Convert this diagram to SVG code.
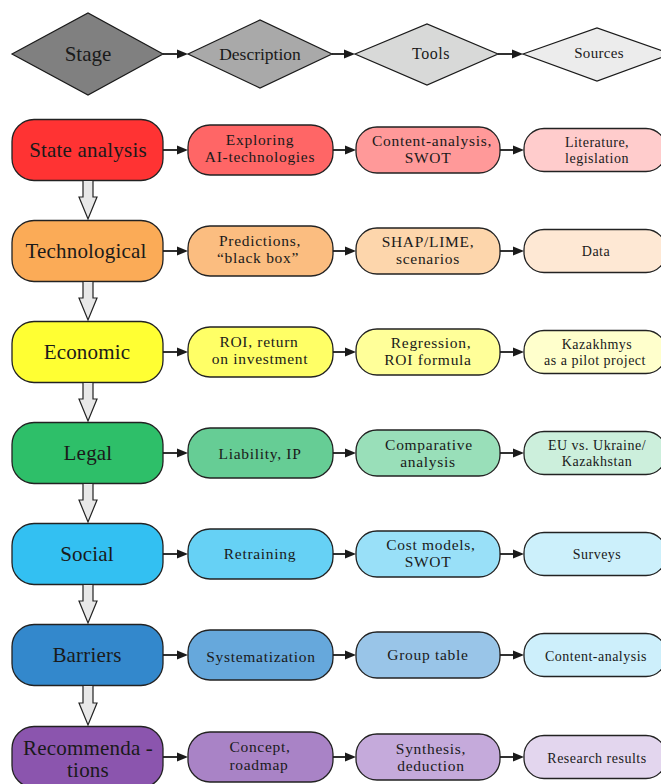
<svg xmlns="http://www.w3.org/2000/svg" width="661" height="784" viewBox="0 0 661 784">
  <style>
    text { fill: #1a1a1a; text-anchor: middle; }
    .hd { stroke: #1a1a1a; stroke-width: 1.2; }
    .box { stroke: #222; stroke-width: 1.3; }
    .st { font-size: 21px; letter-spacing: 0.2px; }
    .ds { font-size: 15.5px; letter-spacing: 0.7px; }
    .tl { font-size: 15.5px; letter-spacing: 0.7px; }
    .sr { font-size: 14px; letter-spacing: 0.5px; }
    .edge { stroke: #1a1a1a; stroke-width: 1.8; fill: none; }
    .head { fill: #1a1a1a; }
    .down { fill: #e8e8e8; stroke: #222; stroke-width: 1.2; }
  </style>

  <g font-family="Liberation Serif, DejaVu Serif, serif">
  <!-- header row -->
  <g id="hdr-stage"><polygon class="hd" points="12,54 88,13 163,54 88,95" fill="#808080"/><text x="88" y="61" style="font-size:21px">Stage</text></g>
  <g id="hdr-description"><polygon class="hd" points="188,54 260,20 332,54 260,88" fill="#a9a9a9"/><text x="260" y="60" style="font-size:17.5px">Description</text></g>
  <g id="hdr-tools"><polygon class="hd" points="355,54 427,24 498,54 427,85" fill="#d8d9d8"/><text x="431" y="59" style="font-size:16px;letter-spacing:0.5px">Tools</text></g>
  <g id="hdr-sources"><polygon class="hd" points="523,54 597,28 671,54 597,81" fill="#ececec"/><text x="599" y="58" style="font-size:15px;letter-spacing:0.3px">Sources</text></g>

  <!-- rows: stage / description / tools / sources -->
  <g id="row1-stage"><rect class="box" x="12" y="119.5" width="151" height="61" rx="22" fill="#ff3333"/><text class="st" x="88" y="157">State analysis</text></g>
  <g id="row1-desc"><rect class="box" x="188" y="125" width="145" height="50" rx="22" fill="#ff6666"/><text class="ds" x="260" y="145">Exploring</text><text class="ds" x="260" y="162">AI-technologies</text></g>
  <g id="row1-tools"><rect class="box" x="356" y="127" width="144" height="46" rx="21" fill="#ff9999"/><text class="tl" x="432" y="146">Content-analysis,</text><text class="tl" x="428" y="163">SWOT</text></g>
  <g id="row1-src"><rect class="box" x="524" y="128.5" width="142" height="43" rx="20" fill="#ffcccc"/><text class="sr" x="597" y="147">Literature,</text><text class="sr" x="597" y="163">legislation</text></g>

  <g id="row2-stage"><rect class="box" x="12" y="220.5" width="151" height="61" rx="22" fill="#fbab57"/><text class="st" x="86" y="258">Technological</text></g>
  <g id="row2-desc"><rect class="box" x="188" y="226" width="145" height="50" rx="22" fill="#fbbd80"/><text class="ds" x="260" y="246">Predictions,</text><text class="ds" x="258" y="263">“black box”</text></g>
  <g id="row2-tools"><rect class="box" x="356" y="228" width="144" height="46" rx="21" fill="#fdd6ac"/><text class="tl" x="428" y="247">SHAP/LIME,</text><text class="tl" x="428" y="264">scenarios</text></g>
  <g id="row2-src"><rect class="box" x="524" y="229.5" width="142" height="43" rx="20" fill="#fee8d4"/><text class="sr" x="596" y="256">Data</text></g>

  <g id="row3-stage"><rect class="box" x="12" y="321.5" width="151" height="61" rx="22" fill="#ffff33"/><text class="st" x="87" y="359">Economic</text></g>
  <g id="row3-desc"><rect class="box" x="188" y="327" width="145" height="50" rx="22" fill="#ffff66"/><text class="ds" x="259" y="347">ROI, return</text><text class="ds" x="260" y="364">on investment</text></g>
  <g id="row3-tools"><rect class="box" x="356" y="329" width="144" height="46" rx="21" fill="#ffff99"/><text class="tl" x="431" y="348">Regression,</text><text class="tl" x="428" y="365">ROI formula</text></g>
  <g id="row3-src"><rect class="box" x="524" y="330.5" width="142" height="43" rx="20" fill="#ffffcc"/><text class="sr" x="597" y="349">Kazakhmys</text><text class="sr" x="595" y="365">as a pilot project</text></g>

  <g id="row4-stage"><rect class="box" x="12" y="422.5" width="151" height="61" rx="22" fill="#2ebf69"/><text class="st" x="88" y="460">Legal</text></g>
  <g id="row4-desc"><rect class="box" x="188" y="428" width="145" height="50" rx="22" fill="#66cd95"/><text class="ds" x="260" y="459">Liability, IP</text></g>
  <g id="row4-tools"><rect class="box" x="356" y="430" width="144" height="46" rx="21" fill="#99dfb9"/><text class="tl" x="429" y="450">Comparative</text><text class="tl" x="428" y="467">analysis</text></g>
  <g id="row4-src"><rect class="box" x="524" y="431.5" width="142" height="43" rx="20" fill="#ccefdc"/><text class="sr" x="597" y="450">EU vs. Ukraine/</text><text class="sr" x="597" y="466">Kazakhstan</text></g>

  <g id="row5-stage"><rect class="box" x="12" y="523.5" width="151" height="61" rx="22" fill="#33c0f2"/><text class="st" x="87" y="561">Social</text></g>
  <g id="row5-desc"><rect class="box" x="188" y="529" width="145" height="50" rx="22" fill="#66d1f5"/><text class="ds" x="260" y="559">Retraining</text></g>
  <g id="row5-tools"><rect class="box" x="356" y="531" width="144" height="46" rx="21" fill="#99e0f8"/><text class="tl" x="431" y="550">Cost models,</text><text class="tl" x="428" y="567">SWOT</text></g>
  <g id="row5-src"><rect class="box" x="524" y="532.5" width="142" height="43" rx="20" fill="#ccf0fb"/><text class="sr" x="597" y="559">Surveys</text></g>

  <g id="row6-stage"><rect class="box" x="12" y="624.5" width="151" height="61" rx="22" fill="#3388cc"/><text class="st" x="87" y="662">Barriers</text></g>
  <g id="row6-desc"><rect class="box" x="188" y="630" width="145" height="50" rx="22" fill="#66a8dc"/><text class="ds" x="261" y="662">Systematization</text></g>
  <g id="row6-tools"><rect class="box" x="356" y="632" width="144" height="46" rx="21" fill="#99c5e8"/><text class="tl" x="428" y="660">Group table</text></g>
  <g id="row6-src"><rect class="box" x="524" y="633.5" width="142" height="43" rx="20" fill="#cdeffb"/><text class="sr" x="596" y="661">Content-analysis</text></g>

  <g id="row7-stage"><rect class="box" x="12" y="726.5" width="151" height="61" rx="22" fill="#8b55ae"/><text class="st" x="88" y="755">Recommenda -</text><text class="st" x="88" y="777">tions</text></g>
  <g id="row7-desc"><rect class="box" x="188" y="732" width="145" height="50" rx="22" fill="#a983c6"/><text class="ds" x="260" y="752">Concept,</text><text class="ds" x="259" y="770">roadmap</text></g>
  <g id="row7-tools"><rect class="box" x="356" y="734" width="144" height="46" rx="21" fill="#c5aadb"/><text class="tl" x="431" y="754">Synthesis,</text><text class="tl" x="431" y="771">deduction</text></g>
  <g id="row7-src"><rect class="box" x="524" y="735.5" width="142" height="43" rx="20" fill="#e3d6ee"/><text class="sr" x="597" y="763">Research results</text></g>
  </g>

  <!-- connectors -->
  <g id="connectors">
    <!-- header links -->
    <line class="edge" x1="163" y1="54" x2="178" y2="54"/><polygon class="head" points="188,54 177,49.5 177,58.5"/>
    <line class="edge" x1="332" y1="54" x2="345" y2="54"/><polygon class="head" points="355,54 344,49.5 344,58.5"/>
    <line class="edge" x1="498" y1="54" x2="513" y2="54"/><polygon class="head" points="523,54 512,49.5 512,58.5"/>

    <!-- row links -->
    <line class="edge" x1="163" y1="150" x2="178" y2="150"/><polygon class="head" points="188,150 177,145.5 177,154.5"/>
    <line class="edge" x1="333" y1="150" x2="346" y2="150"/><polygon class="head" points="356,150 345,145.5 345,154.5"/>
    <line class="edge" x1="500" y1="150" x2="514" y2="150"/><polygon class="head" points="524,150 513,145.5 513,154.5"/>

    <line class="edge" x1="163" y1="251" x2="178" y2="251"/><polygon class="head" points="188,251 177,246.5 177,255.5"/>
    <line class="edge" x1="333" y1="251" x2="346" y2="251"/><polygon class="head" points="356,251 345,246.5 345,255.5"/>
    <line class="edge" x1="500" y1="251" x2="514" y2="251"/><polygon class="head" points="524,251 513,246.5 513,255.5"/>

    <line class="edge" x1="163" y1="352" x2="178" y2="352"/><polygon class="head" points="188,352 177,347.5 177,356.5"/>
    <line class="edge" x1="333" y1="352" x2="346" y2="352"/><polygon class="head" points="356,352 345,347.5 345,356.5"/>
    <line class="edge" x1="500" y1="352" x2="514" y2="352"/><polygon class="head" points="524,352 513,347.5 513,356.5"/>

    <line class="edge" x1="163" y1="453" x2="178" y2="453"/><polygon class="head" points="188,453 177,448.5 177,457.5"/>
    <line class="edge" x1="333" y1="453" x2="346" y2="453"/><polygon class="head" points="356,453 345,448.5 345,457.5"/>
    <line class="edge" x1="500" y1="453" x2="514" y2="453"/><polygon class="head" points="524,453 513,448.5 513,457.5"/>

    <line class="edge" x1="163" y1="554" x2="178" y2="554"/><polygon class="head" points="188,554 177,549.5 177,558.5"/>
    <line class="edge" x1="333" y1="554" x2="346" y2="554"/><polygon class="head" points="356,554 345,549.5 345,558.5"/>
    <line class="edge" x1="500" y1="554" x2="514" y2="554"/><polygon class="head" points="524,554 513,549.5 513,558.5"/>

    <line class="edge" x1="163" y1="655" x2="178" y2="655"/><polygon class="head" points="188,655 177,650.5 177,659.5"/>
    <line class="edge" x1="333" y1="655" x2="346" y2="655"/><polygon class="head" points="356,655 345,650.5 345,659.5"/>
    <line class="edge" x1="500" y1="655" x2="514" y2="655"/><polygon class="head" points="524,655 513,650.5 513,659.5"/>

    <line class="edge" x1="163" y1="757" x2="178" y2="757"/><polygon class="head" points="188,757 177,752.5 177,761.5"/>
    <line class="edge" x1="333" y1="757" x2="346" y2="757"/><polygon class="head" points="356,757 345,752.5 345,761.5"/>
    <line class="edge" x1="500" y1="757" x2="514" y2="757"/><polygon class="head" points="524,757 513,752.5 513,761.5"/>

    <!-- stage-to-stage hollow block arrows -->
    <polygon class="down" points="83,180.5 93,180.5 93,197 97,197 88,219 79,197 83,197"/>
    <polygon class="down" points="83,281.5 93,281.5 93,298 97,298 88,320 79,298 83,298"/>
    <polygon class="down" points="83,382.5 93,382.5 93,399 97,399 88,421 79,399 83,399"/>
    <polygon class="down" points="83,483.5 93,483.5 93,500 97,500 88,522 79,500 83,500"/>
    <polygon class="down" points="83,584.5 93,584.5 93,601 97,601 88,623 79,601 83,601"/>
    <polygon class="down" points="83,685.5 93,685.5 93,703 97,703 88,725 79,703 83,703"/>
  </g>
</svg>
